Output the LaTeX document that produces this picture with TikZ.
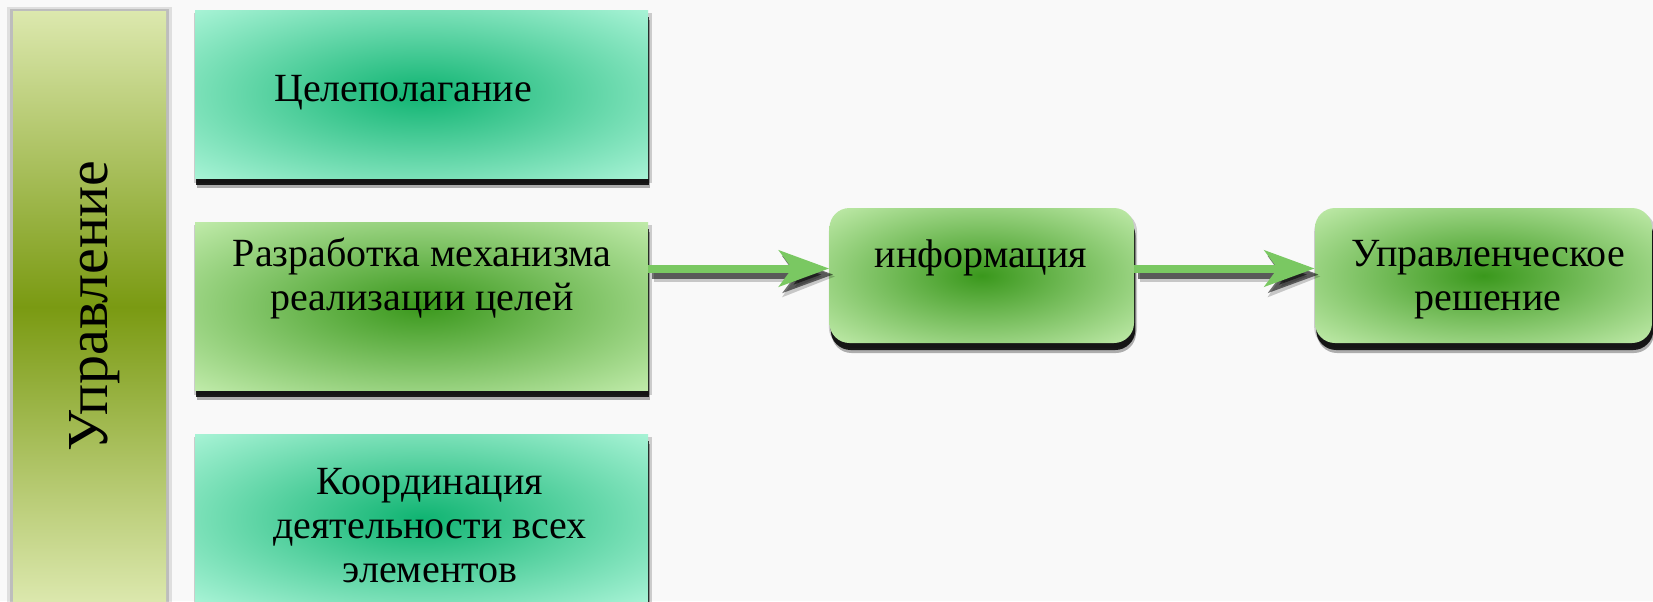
\documentclass[tikz,border=0pt]{standalone}
\usepackage{fontspec}
\setmainfont{Liberation Serif}
\usetikzlibrary{arrows.meta,shadows}
\definecolor{bgcol}{RGB}{249,249,249}
\definecolor{tealin}{RGB}{16,180,114}
\definecolor{tealout}{RGB}{170,244,215}
\definecolor{grnin}{RGB}{58,152,28}
\definecolor{grnout}{RGB}{194,236,172}
\definecolor{olvlight}{RGB}{220,232,174}
\definecolor{olvdark}{RGB}{122,154,18}
\definecolor{arrowgreen}{RGB}{122,200,98}
\pgfdeclareradialshading{tealrad}{\pgfpoint{0bp}{0bp}}{color(0bp)=(tealin); color(36bp)=(tealout); color(50bp)=(tealout)}
\pgfdeclareradialshading{grnrad}{\pgfpoint{0bp}{0bp}}{color(0bp)=(grnin); color(36bp)=(grnout); color(50bp)=(grnout)}
\begin{document}
\begin{tikzpicture}[x=0.5pt,y=-0.5pt,
  bshadow/.style={
    general shadow={shadow scale=1.012, shadow xshift=0.6pt, shadow yshift=-2pt, opacity=0.18, fill=black},
    drop shadow={shadow xshift=1pt, shadow yshift=-5pt, opacity=0.3, fill=black},
    drop shadow={shadow xshift=0.6pt, shadow yshift=-3.5pt, opacity=0.85, fill=black}},
  tealbox/.style={shade, shading=tealrad, draw=none, inner sep=0pt, minimum width=226.5pt, minimum height=84pt, bshadow},
  grnbox/.style={shade, shading=grnrad, draw=none, inner sep=0pt, minimum width=226.5pt, minimum height=84pt, bshadow},
  roundbox/.style={shade, shading=grnrad, draw=none, inner sep=0pt, rounded corners=10pt, minimum height=67.5pt, bshadow},
  lbl/.style={font=\fontsize{20}{22}\selectfont, align=center, anchor=base, inner sep=0pt},
  flow/.style={draw=arrowgreen, line width=4pt, -{Stealth[length=25pt,width=18pt,inset=6.5pt]}},
  flowshadow/.style={draw=black, opacity=0.55, line width=4pt, -{Stealth[length=25pt,width=18pt,inset=6.5pt]}, transform canvas={xshift=2pt,yshift=-3pt}},
  flowshadowb/.style={draw=black, opacity=0.2, line width=5.5pt, -{Stealth[length=26pt,width=20pt,inset=6.5pt]}, transform canvas={xshift=3pt,yshift=-4pt}}
]
\fill[bgcol] (0,0) rectangle (1653,601);
\useasboundingbox (0,0) rectangle (1653,601);
\clip (0,0) rectangle (1653,601);

% left bar with soft side shadow
\fill[black, opacity=0.10] (7,7) rectangle (172,605);
\fill[black, opacity=0.15] (10,9) rectangle (169,605);
\node[draw=none, inner sep=0pt, minimum width=76.5pt, minimum height=296pt,
      top color=olvlight, bottom color=olvlight, middle color=olvdark] (bar) at (89.5,307) {};
\node[font=\fontsize{29}{30}\selectfont, rotate=90, anchor=base, inner sep=0pt] (bartext) at (107,306) {Управление};

% three boxes
\node[tealbox] (box1) at (421.5,94) {};
\node[grnbox] (box2) at (421.5,306) {};
\node[tealbox] (box3) at (421.5,518) {};

\node[lbl] (t1) at (403,101) {Целеполагание};
\node[lbl] (t2) at (422,310) {Разработка механизма\\реализации целей};
\node[lbl] (t3) at (430,582) {Координация\\деятельности всех\\элементов};

% right boxes
\node[roundbox, minimum width=152.25pt] (info) at (981.75,275.5) {};
\node[roundbox, minimum width=168.5pt] (dec) at (1483.5,275.5) {};
\node[lbl] (t4) at (981,267) {информация};
\node[lbl] (t5) at (1488,310) {Управленческое\\решение};

% arrows
\coordinate (a1) at ([yshift=3.5pt]info.west);
\coordinate (a2) at ([yshift=3.5pt]dec.west);
\draw[flowshadowb] (box2.east |- a1) -- (a1);
\draw[flowshadow] (box2.east |- a1) -- (a1);
\draw[flow] (box2.east |- a1) -- (a1);
\draw[flowshadowb] (info.east |- a2) -- (a2);
\draw[flowshadow] (info.east |- a2) -- (a2);
\draw[flow] (info.east |- a2) -- (a2);
\end{tikzpicture}
\end{document}
